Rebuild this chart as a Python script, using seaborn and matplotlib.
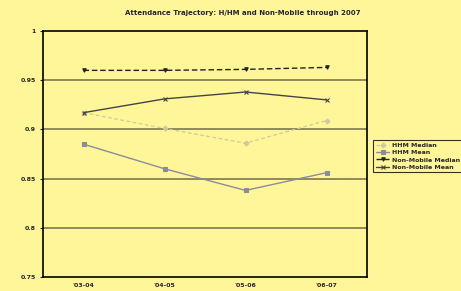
import pandas as pd
import matplotlib.pyplot as plt
import seaborn as sns

years = ["'03-04", "'04-05", "'05-06", "'06-07"]
hhm_median = [0.917, 0.901, 0.886, 0.909]
hhm_mean = [0.885, 0.860, 0.838, 0.856]
nm_median = [0.960, 0.960, 0.961, 0.963]
nm_mean = [0.917, 0.931, 0.938, 0.930]
yticks = [0.75, 0.8, 0.85, 0.9, 0.95, 1]
ylabels = ['0.75', '0.8', '0.85', '0.9', '0.95', '1']

sns.set_style("white")
bg = '#FFF69A'

fig = plt.figure(figsize=(4.61, 2.91), dpi=100, facecolor=bg)
ax = fig.add_axes([43/461, 14/291, 324/461, 246/291])
ax.set_facecolor(bg)

series = [
    ('HHM Median', hhm_median, '#cfca9c', (0, (3, 2)), 'D', 0.9),
    ('HHM Mean', hhm_mean, '#8a8c9c', '-', 's', 1.0),
    ('Non-Mobile Median', nm_median, '#222222', (0, (4, 2)), 'v', 1.0),
    ('Non-Mobile Mean', nm_mean, '#444444', '-', 'x', 1.0),
]
x = list(range(len(years)))
for name, vals, col, ls, mk, lw in series:
    df = pd.DataFrame({'x': x, 'y': vals})
    sns.lineplot(data=df, x='x', y='y', ax=ax, color=col, linestyle=ls,
                 marker=mk, markersize=2.5, markeredgecolor=col,
                 markeredgewidth=0.8, linewidth=lw, label=name)

ax.set_xlim(-0.5, 3.5)
ax.set_ylim(0.75, 1)
ax.set_yticks(yticks)
ax.set_yticklabels(ylabels, fontsize=4.5, fontweight='bold')
ax.set_xticks(x)
ax.set_xticklabels(years, fontsize=4.5, fontweight='bold')
ax.set_xticks([0.5, 1.5, 2.5], minor=True)
ax.tick_params(axis='x', which='major', length=0, pad=4)
ax.tick_params(axis='x', which='minor', length=2, direction='in', width=0.8)
ax.tick_params(axis='y', length=2, direction='out', width=0.8, pad=3, left=True)
ax.set_xlabel('')
ax.set_ylabel('')
for v in [0.8, 0.85, 0.9, 0.95]:
    ax.axhline(v, color='#6f6e48', linewidth=1.1, zorder=0)
for s in ax.spines.values():
    s.set_color('black')
    s.set_linewidth(1.2)

fig.text(243/461, 1 - 13/291, 'Attendance Trajectory: H/HM and Non-Mobile through 2007',
         ha='center', va='center', fontsize=5, fontweight='bold')

leg = ax.legend(loc='upper left', bbox_to_anchor=(370/461, 1 - 137/291),
                bbox_transform=fig.transFigure, frameon=True,
                prop={'size': 4.5, 'weight': 'bold'}, handlelength=2.2,
                handletextpad=0.4, borderpad=0.4, labelspacing=0.3,
                fancybox=False)
leg.get_frame().set_edgecolor('black')
leg.get_frame().set_linewidth(0.8)
leg.get_frame().set_facecolor(bg)

fig.savefig('out.png', dpi=100, facecolor=bg)
